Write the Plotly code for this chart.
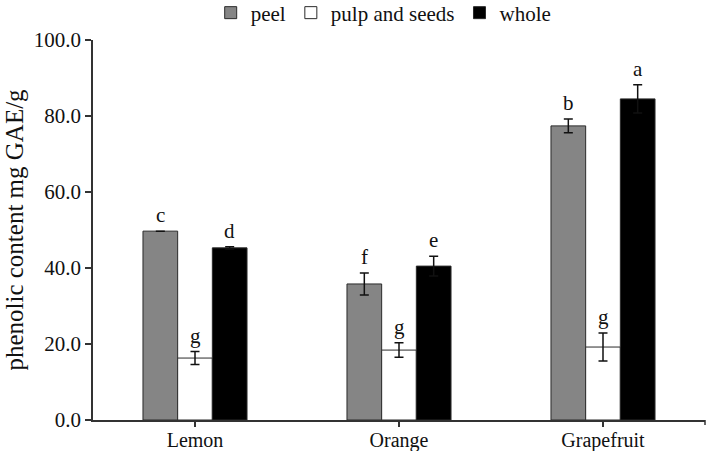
import plotly.graph_objects as go

categories = ["Lemon", "Orange", "Grapefruit"]
series_names = ["peel", "pulp and seeds", "whole"]
peel = [49.7, 35.8, 77.4]
peel_err = [0.0, 2.9, 1.8]
pulp = [16.3, 18.4, 19.2]
pulp_err = [1.7, 1.9, 3.7]
whole = [45.3, 40.5, 84.5]
whole_err = [0.3, 2.6, 3.7]
peel_letters = ["c", "f", "b"]
pulp_letters = ["g", "g", "g"]
whole_letters = ["d", "e", "a"]
y_ticks = [0, 20, 40, 60, 80, 100]
y_tick_labels = ["0.0", "20.0", "40.0", "60.0", "80.0", "100.0"]

FONT = "Liberation Serif, Times New Roman, serif"
colors = ["#858585", "#ffffff", "#000000"]
bargap = 0.49

values = [peel, pulp, whole]
errs = [peel_err, pulp_err, whole_err]
letters = [peel_letters, pulp_letters, whole_letters]

fig = go.Figure()
for name, v, e, c in zip(series_names, values, errs, colors):
    fig.add_trace(go.Bar(
        name=name, x=categories, y=v,
        marker=dict(color=c, line=dict(color="#2a2a2a", width=1)),
        error_y=dict(type="data", array=e, visible=True, color="#111111",
                     thickness=1.5, width=4.5),
    ))

bw = (1 - bargap) / 3
annotations = []
for si in range(3):
    for ci in range(3):
        annotations.append(dict(
            x=ci + (si - 1) * bw, y=values[si][ci] + errs[si][ci],
            xref="x", yref="y", text=letters[si][ci], showarrow=False,
            yanchor="bottom", yshift=2, font=dict(family=FONT, size=21, color="#111111"),
        ))

fig.update_layout(
    width=709, height=451,
    margin=dict(l=93, r=4, t=40, b=31, autoexpand=False),
    paper_bgcolor="white", plot_bgcolor="white",
    barmode="group", bargap=bargap, bargroupgap=0,
    font=dict(family=FONT, size=21, color="#111111"),
    showlegend=True,
    legend=dict(orientation="h", x=0.475, xanchor="center", y=1.125, yanchor="top",
                font=dict(family=FONT, size=21), itemwidth=30, tracegroupgap=0),
    annotations=annotations,
    xaxis=dict(type="category", range=[-0.5, 2.5], showline=True, linecolor="#333333",
               linewidth=1.5, ticks="outside", ticklen=5, tickcolor="#333333",
               tickwidth=1.5, showgrid=False, tickfont=dict(family=FONT, size=20),
               automargin=False, ticklabelstandoff=-4),
    yaxis=dict(range=[0, 100], tickvals=y_ticks, ticktext=y_tick_labels, showline=True,
               linecolor="#333333", linewidth=1.5, ticks="outside", ticklen=6,
               tickcolor="#333333", tickwidth=1.5, showgrid=False, zeroline=False,
               tickfont=dict(family=FONT, size=21), automargin=False,
               title=dict(text="phenolic content mg GAE/g", font=dict(family=FONT, size=25),
                          standoff=3)),
    shapes=[dict(type="line", xref="paper", yref="paper", x0=1, x1=1, y0=0, y1=-5/380,
                 line=dict(color="#333333", width=1.5))],
)

fig.write_html("out.html", config={"displayModeBar": False},
               post_script="document.body.style.margin='0';document.body.style.overflow='hidden';")
